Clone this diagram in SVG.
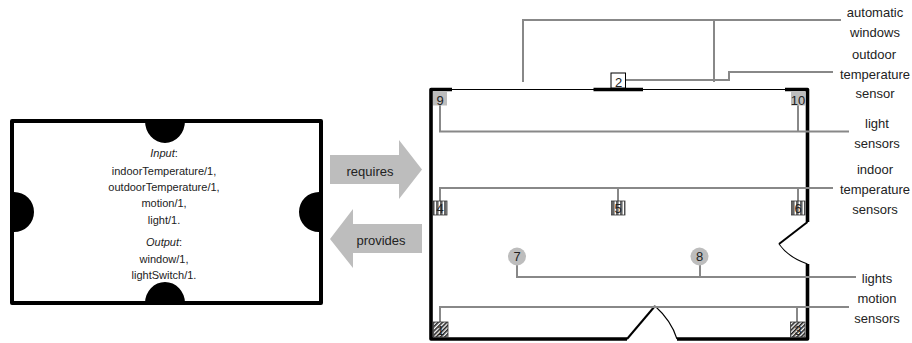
<svg xmlns="http://www.w3.org/2000/svg" width="912" height="343" viewBox="0 0 912 343">
<style>
text{font-family:"Liberation Sans",Arial,sans-serif;fill:#222;text-anchor:middle}
.s{font-size:11px}.l{font-size:13px}.n{font-size:13px}
.w{fill:none;stroke:#000;stroke-width:3.6;stroke-linejoin:round}
.t{fill:none;stroke:#000;stroke-width:1.1}
.c{fill:none;stroke:#888;stroke-width:2}
.g{fill:#bdbdbd}
.b{stroke:#333;stroke-width:.8}
</style>
<defs>
<pattern id="v" width="4" height="4" patternUnits="userSpaceOnUse"><rect width="4" height="4" fill="#fff"/><rect width="2.6" height="4" fill="#666"/></pattern>
<pattern id="d" width="3" height="3" patternUnits="userSpaceOnUse" patternTransform="rotate(-45)"><rect width="3" height="3" fill="#fff"/><rect width="3" height="1.6" fill="#222"/></pattern>
</defs>
<g id="component">
<rect x="12" y="121" width="309" height="182" fill="#fff" stroke="#000" stroke-width="4" stroke-linejoin="round"/>
<path d="M145 121a20 22 0 0 0 40 0zM145 303a20 21 0 0 1 40 0zM14 192a20 20 0 0 1 0 40zM319 192a20 20 0 0 0 0 40z"/>
<text class="s" x="164" y="157" font-style="italic">Input<tspan font-style="normal">:</tspan></text>
<text class="s" x="164" y="175">indoorTemperature/1,</text>
<text class="s" x="164" y="191">outdoorTemperature/1,</text>
<text class="s" x="164" y="207">motion/1,</text>
<text class="s" x="164" y="224">light/1.</text>
<text class="s" x="164" y="246" font-style="italic">Output<tspan font-style="normal">:</tspan></text>
<text class="s" x="164" y="263">window/1,</text>
<text class="s" x="164" y="279">lightSwitch/1.</text>
</g>
<g id="requires">
<path class="g" d="M330 155H399V140L422 169.500 399 199V184H330Z"/>
<text class="l" x="370" y="176">requires</text>
</g>
<g id="provides">
<path class="g" d="M422 224H353V209L330 239 353 268V253H422Z"/>
<text class="l" x="381" y="245">provides</text>
</g>
<g id="room">
<path class="w" d="M452 89.500H431V339H627M677 339H807.500V264M807.500 222V89.500H785"/>
<path class="t" d="M452 89.500H785"/>
<path class="w" d="M593.500 89.500H643"/>
<path d="M627 339L655 306" fill="none" stroke="#000" stroke-width="2"/>
<path class="t" d="M655 306C665 315 673 326 677 339"/>
<path d="M807.500 222L779 244" fill="none" stroke="#000" stroke-width="2"/>
<path class="t" d="M779 244C786 254 796 260 807.500 264"/>
</g>
<g id="connectors">
<path class="c" d="M523 82V20H841M714 20V82"/>
<path class="c" d="M626 80H729V72H833"/>
<path class="c" d="M440 105V131.500H849M798 105V131.500"/>
<path class="c" d="M440 201V188H833M618 188V201M798 188V201"/>
<path class="c" d="M517 265V277H856M700 265V277"/>
<path class="c" d="M440 322V307H849M797 307V322"/>
</g>
<g id="node-2"><rect x="611" y="73" width="14.500" height="15" fill="#fff" stroke="#000"/><text class="n" x="618.500" y="87">2</text></g>
<g id="node-9"><rect class="g" x="433" y="92" width="14" height="13.500"/><text class="n" x="440" y="105">9</text></g>
<g id="node-10"><rect class="g" x="791" y="92" width="14" height="13.500"/><text class="n" x="798" y="105">10</text></g>
<g id="node-4"><rect class="b" x="433.500" y="201" width="13.500" height="14" fill="url(#v)"/><text class="n" x="440" y="213">4</text></g>
<g id="node-5"><rect class="b" x="611.500" y="201" width="13.500" height="14" fill="url(#v)"/><text class="n" x="618" y="213">5</text></g>
<g id="node-6"><rect class="b" x="791.500" y="201" width="13.500" height="14" fill="url(#v)"/><text class="n" x="798" y="213">6</text></g>
<g id="node-7"><circle class="g" cx="517" cy="256.500" r="9"/><text class="n" x="517" y="261">7</text></g>
<g id="node-8"><circle class="g" cx="699.500" cy="256.500" r="9"/><text class="n" x="699.500" y="261">8</text></g>
<g id="node-1"><rect class="b" x="433.500" y="322" width="14.500" height="15" fill="url(#d)"/><text class="n" x="440.500" y="335">1</text></g>
<g id="node-3"><rect class="b" x="790.500" y="322" width="14.500" height="15" fill="url(#d)"/><text class="n" x="798" y="335">3</text></g>
<g id="labels">
<text class="l" x="875" y="17">automatic</text>
<text class="l" x="875" y="37">windows</text>
<text class="l" x="874" y="59">outdoor</text>
<text class="l" x="875" y="79">temperature</text>
<text class="l" x="875" y="98">sensor</text>
<text class="l" x="877" y="128">light</text>
<text class="l" x="877" y="148">sensors</text>
<text class="l" x="875" y="174">indoor</text>
<text class="l" x="875" y="194">temperature</text>
<text class="l" x="875" y="214">sensors</text>
<text class="l" x="877" y="283">lights</text>
<text class="l" x="877" y="303">motion</text>
<text class="l" x="877" y="323">sensors</text>
</g>
</svg>
